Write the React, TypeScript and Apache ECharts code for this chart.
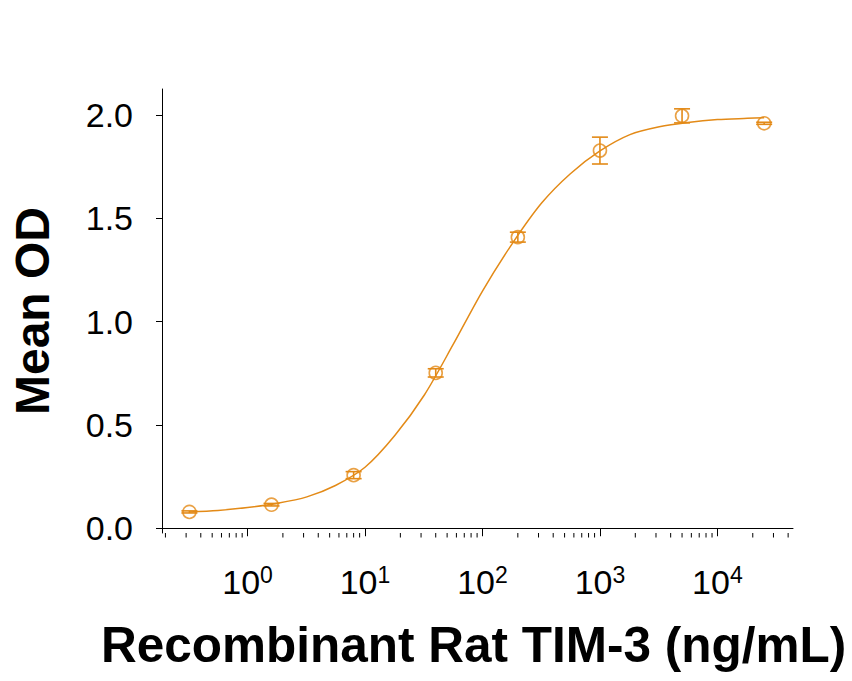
import { useEffect, useRef } from 'react';
import * as echarts from 'echarts';

// measured points (five-fold dilution series)
const concentrations = [0.32, 1.6, 8, 40, 200, 1000, 5000, 25000];
const meanOD = [0.079, 0.114, 0.257, 0.752, 1.409, 1.828, 1.996, 1.96];
const odSD = [0.005, 0.006, 0.017, 0.02, 0.024, 0.065, 0.034, 0.005];

// fitted curve at roughly quarter-decade steps
const fitConcentrations = [0.32, 0.56, 1, 1.8, 3.2, 5.6, 10, 18, 32, 56, 100, 180, 320, 560, 1000, 1800, 3200, 5600, 10000, 18000, 25000];
const fitOD = [0.079, 0.086, 0.1, 0.121, 0.152, 0.207, 0.295, 0.45, 0.645, 0.887, 1.148, 1.379, 1.575, 1.716, 1.826, 1.905, 1.943, 1.964, 1.978, 1.984, 1.987];

const xTickValues = [1, 10, 100, 1000, 10000];
const yTickValues = [0, 0.5, 1, 1.5, 2];
const minorMultipliers = [2, 3, 4, 5, 6, 7, 8, 9];
const minorDecades = [0.1, 1, 10, 100, 1000, 10000];

const ORANGE = '#E38A17';
const FONT = '"Liberation Sans", Arial, sans-serif';
const X_MIN = 0.187;
const X_MAX = 44000;
const Y_MIN = -0.023;
const Y_MAX = 2.126;

const App = () => {
    const chartRef = useRef<HTMLDivElement>(null);

    useEffect(() => {
        if (!chartRef.current) return;
        const chart = echarts.init(chartRef.current, null, { renderer: 'svg' });

        const points = concentrations.map((c, i) => [c, meanOD[i]]);
        const errorBars = concentrations.map((c, i) => [c, meanOD[i] - odSD[i], meanOD[i] + odSD[i]]);
        const fitLine = fitConcentrations.map((c, i) => [c, fitOD[i]]);
        const minorTicks = minorDecades
            .flatMap((d) => minorMultipliers.map((m) => m * d))
            .filter((v) => v >= X_MIN && v <= X_MAX)
            .map((v) => [v, Y_MIN]);

        const option: echarts.EChartsOption = {
            animation: false,
            grid: { left: 157, right: 59, top: 89, bottom: 148, containLabel: false },
            xAxis: {
                type: 'log',
                logBase: 10,
                min: X_MIN,
                max: X_MAX,
                axisLine: { show: true, lineStyle: { color: '#000', width: 1 } },
                axisTick: { show: true, length: 8, lineStyle: { color: '#000' }, customValues: xTickValues },
                axisLabel: {
                    customValues: xTickValues,
                    margin: 30,
                    formatter: (v: number) => `{b|10}{s|${Math.round(Math.log10(v))}}`,
                    rich: {
                        b: { fontSize: 34, lineHeight: 38, color: '#000', fontFamily: FONT },
                        s: { fontSize: 23, verticalAlign: 'top', color: '#000', fontFamily: FONT },
                    },
                },
                splitLine: { show: false },
                name: 'Recombinant Rat TIM-3 (ng/mL)',
                nameLocation: 'middle',
                nameGap: 86,
                nameTextStyle: {
                    fontFamily: FONT,
                    fontSize: 49.5,
                    fontWeight: 'bold',
                    color: '#000',
                    padding: [0, 8, 0, 0],
                },
            },
            yAxis: {
                type: 'value',
                min: Y_MIN,
                max: Y_MAX,
                axisLine: { show: true, lineStyle: { color: '#000', width: 1 } },
                axisTick: { show: true, length: 6, lineStyle: { color: '#000' }, customValues: yTickValues },
                axisLabel: {
                    customValues: yTickValues,
                    margin: 29,
                    fontSize: 34,
                    color: '#000',
                    fontFamily: FONT,
                    formatter: (v: number) => v.toFixed(1),
                },
                splitLine: { show: false },
                name: 'Mean OD',
                nameLocation: 'middle',
                nameGap: 106,
                nameTextStyle: { fontFamily: FONT, fontSize: 48, fontWeight: 'bold', color: '#000' },
            },
            series: [
                {
                    type: 'line',
                    data: fitLine,
                    smooth: 0.3,
                    symbol: 'none',
                    lineStyle: { color: ORANGE, width: 1.5 },
                },
                {
                    type: 'custom',
                    data: errorBars,
                    encode: { x: 0, y: [1, 2] },
                    renderItem: (params: any, api: any) => {
                        const x = api.value(0);
                        const top = api.coord([x, api.value(2)]);
                        const bot = api.coord([x, api.value(1)]);
                        const half = 8;
                        const style = { stroke: ORANGE, lineWidth: 1.6 };
                        return {
                            type: 'group',
                            children: [
                                { type: 'line', shape: { x1: top[0], y1: top[1], x2: bot[0], y2: bot[1] }, style },
                                { type: 'line', shape: { x1: top[0] - half, y1: top[1], x2: top[0] + half, y2: top[1] }, style },
                                { type: 'line', shape: { x1: bot[0] - half, y1: bot[1], x2: bot[0] + half, y2: bot[1] }, style },
                            ],
                        };
                    },
                },
                {
                    type: 'scatter',
                    data: points,
                    symbol: 'circle',
                    symbolSize: 13,
                    itemStyle: { color: 'none', borderColor: ORANGE, borderWidth: 1.6 },
                },
                {
                    // minor ticks on the log axis
                    type: 'custom',
                    data: minorTicks,
                    clip: false,
                    silent: true,
                    renderItem: (params: any, api: any) => {
                        const p = api.coord([api.value(0), Y_MIN]);
                        return {
                            type: 'line',
                            shape: { x1: p[0], y1: p[1], x2: p[0], y2: p[1] + 4.5 },
                            style: { stroke: '#000', lineWidth: 1 },
                        };
                    },
                },
            ],
        };

        chart.setOption(option);

        return () => {
            chart.dispose();
        };
    }, []);

    return (
        <div
            ref={chartRef}
            style={{ position: 'absolute', left: 0, top: 0, width: '852px', height: '681px', background: '#fff' }}
        />
    );
};

export default App;
